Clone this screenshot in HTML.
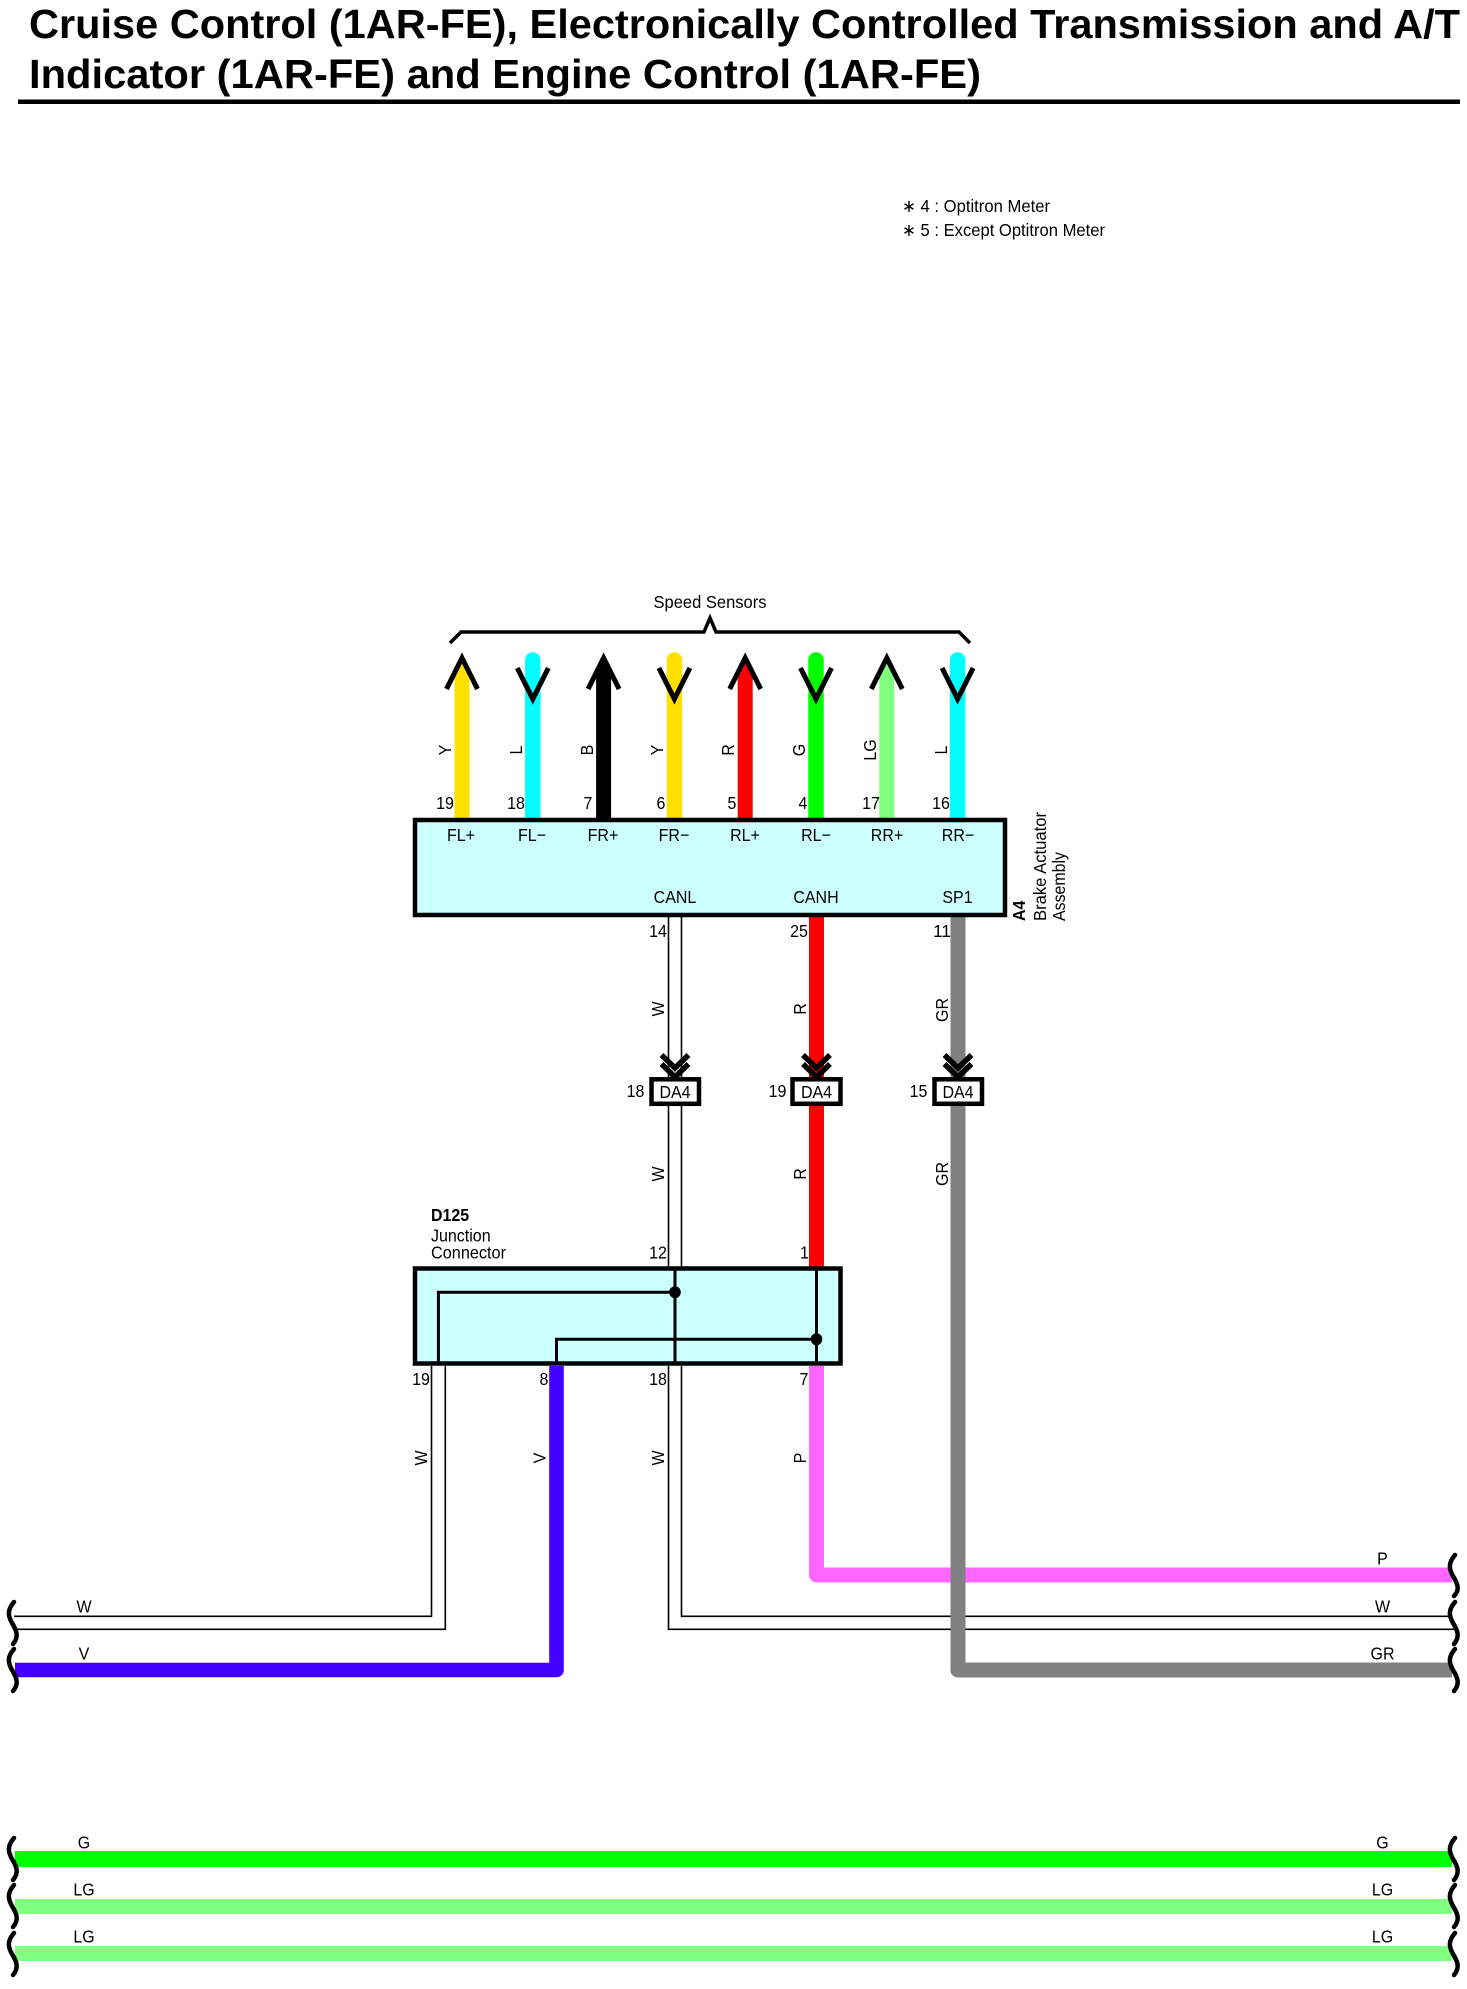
<!DOCTYPE html>
<html><head><meta charset="utf-8"><title>Wiring diagram</title>
<style>
html,body{margin:0;padding:0;background:#fff;width:1467px;height:1989px;overflow:hidden}
svg{display:block}
text{font-family:"Liberation Sans",Arial,sans-serif;font-size:17.5px;fill:#000;text-anchor:middle}
.s{text-anchor:start}
.b{font-weight:bold}
.ln{stroke:#000;stroke-width:1.6;fill:none}
.chev{stroke:#000;stroke-width:5.5;fill:none;stroke-linejoin:miter}
.sq{stroke:#000;stroke-width:4.5;fill:none;stroke-linecap:round}
.in{stroke:#000;stroke-width:3;fill:none}
</style></head><body>
<svg width="1467" height="1989" viewBox="0 0 1467 1989" xmlns="http://www.w3.org/2000/svg">
<rect width="1467" height="1989" fill="#fff"/>
<!-- title -->
<text class="s b" x="29" y="38" style="font-size:41px" textLength="1431" lengthAdjust="spacingAndGlyphs">Cruise Control (1AR-FE), Electronically Controlled Transmission and A/T</text>
<text class="s b" x="29" y="88" style="font-size:41px" textLength="952" lengthAdjust="spacingAndGlyphs">Indicator (1AR-FE) and Engine Control (1AR-FE)</text>
<rect x="18" y="99.5" width="1442" height="4.5" fill="#000"/>
<text class="s" x="902" y="212" textLength="148" lengthAdjust="spacingAndGlyphs">∗ 4 : Optitron Meter</text>
<text class="s" x="902" y="236" textLength="203" lengthAdjust="spacingAndGlyphs">∗ 5 : Except Optitron Meter</text>

<!-- speed sensors brace -->
<text x="710" y="608" textLength="113" lengthAdjust="spacingAndGlyphs">Speed Sensors</text>
<path d="M450 643 L461 632 H704 L710 618 L716 632 H959 L970 643" fill="none" stroke="#000" stroke-width="3.5"/>

<!-- sensor wires -->
<polygon points="454.5,820 454.5,677 462,657 469.5,677 469.5,820" fill="#ffe000"/>
<path d="M532.8 820 V660" stroke="#00ffff" stroke-width="15.5" stroke-linecap="round" fill="none"/>
<polygon points="596.1,820 596.1,677 603.6,657 611.1,677 611.1,820" fill="#000"/>
<path d="M674.4 820 V660" stroke="#ffe000" stroke-width="15.5" stroke-linecap="round" fill="none"/>
<polygon points="737.7,820 737.7,677 745.2,657 752.7,677 752.7,820" fill="#ff0000"/>
<path d="M816 820 V660" stroke="#00ff00" stroke-width="15.5" stroke-linecap="round" fill="none"/>
<polygon points="879.3,820 879.3,677 886.8,657 894.3,677 894.3,820" fill="#80ff80"/>
<path d="M957.6 820 V660" stroke="#00ffff" stroke-width="15.5" stroke-linecap="round" fill="none"/>
<g class="chev" style="stroke-width:5">
<path d="M446.5 689 L462 658 L477.5 689"/>
<path d="M517.3 668 L532.8 699 L548.3 668"/>
<path d="M588.1 689 L603.6 658 L619.1 689"/>
<path d="M658.9 668 L674.4 699 L689.9 668"/>
<path d="M729.7 689 L745.2 658 L760.7 689"/>
<path d="M800.5 668 L816 699 L831.5 668"/>
<path d="M871.3 689 L886.8 658 L902.3 689"/>
<path d="M942.1 668 L957.6 699 L973.1 668"/>
</g>
<!-- sensor wire labels -->
<g>
<text transform="translate(450,750) rotate(-90)" y="1" textLength="10.7" lengthAdjust="spacingAndGlyphs">Y</text>
<text transform="translate(521,750) rotate(-90)" y="1" textLength="8.9" lengthAdjust="spacingAndGlyphs">L</text>
<text transform="translate(592,750) rotate(-90)" y="1" textLength="10.7" lengthAdjust="spacingAndGlyphs">B</text>
<text transform="translate(662,750) rotate(-90)" y="1" textLength="10.7" lengthAdjust="spacingAndGlyphs">Y</text>
<text transform="translate(733,750) rotate(-90)" y="1" textLength="11.6" lengthAdjust="spacingAndGlyphs">R</text>
<text transform="translate(804,750) rotate(-90)" y="1" textLength="12.4" lengthAdjust="spacingAndGlyphs">G</text>
<text transform="translate(875,750) rotate(-90)" y="1" textLength="21.3" lengthAdjust="spacingAndGlyphs">LG</text>
<text transform="translate(946,750) rotate(-90)" y="1" textLength="8.9" lengthAdjust="spacingAndGlyphs">L</text>
</g>
<g>
<text x="445" y="809" textLength="17.8" lengthAdjust="spacingAndGlyphs">19</text><text x="516" y="809" textLength="17.8" lengthAdjust="spacingAndGlyphs">18</text><text x="588" y="809" textLength="8.9" lengthAdjust="spacingAndGlyphs">7</text><text x="661" y="809" textLength="8.9" lengthAdjust="spacingAndGlyphs">6</text>
<text x="732" y="809" textLength="8.9" lengthAdjust="spacingAndGlyphs">5</text><text x="803" y="809" textLength="8.9" lengthAdjust="spacingAndGlyphs">4</text><text x="871" y="809" textLength="17.8" lengthAdjust="spacingAndGlyphs">17</text><text x="941" y="809" textLength="17.8" lengthAdjust="spacingAndGlyphs">16</text>
</g>

<!-- lower wires -->
<path d="M816.5 1366 V1575 H1452" fill="none" stroke="#ff66ff" stroke-width="15" stroke-linejoin="round"/>
<path d="M556.5 1366 V1670 H15" fill="none" stroke="#4400ff" stroke-width="14.6" stroke-linejoin="round"/>
<g class="ln">
<path d="M431.5 1366 V1616.3 H14"/>
<path d="M445.3 1366 V1629.3 H16"/>
<path d="M668.5 917 V1077 M681.5 917 V1077"/>
<path d="M668.5 1106 V1267 M681.5 1106 V1267"/>
<path d="M668.5 1366 V1629.3 H1456"/>
<path d="M681.5 1366 V1616.3 H1452"/>
</g>
<path d="M958 917 V1670 H1452" fill="none" stroke="#808080" stroke-width="15" stroke-linejoin="round"/>
<path d="M816.5 917 V1267" fill="none" stroke="#ff0000" stroke-width="15"/>

<!-- A4 box -->
<rect x="415" y="820" width="590" height="95" fill="#ccffff" stroke="#000" stroke-width="4.5"/>
<text x="461" y="841" textLength="28" lengthAdjust="spacingAndGlyphs">FL+</text><text x="532" y="841" textLength="28" lengthAdjust="spacingAndGlyphs">FL−</text><text x="603" y="841" textLength="30.7" lengthAdjust="spacingAndGlyphs">FR+</text><text x="674" y="841" textLength="30.7" lengthAdjust="spacingAndGlyphs">FR−</text>
<text x="745" y="841" textLength="29.8" lengthAdjust="spacingAndGlyphs">RL+</text><text x="816" y="841" textLength="29.8" lengthAdjust="spacingAndGlyphs">RL−</text><text x="887" y="841" textLength="32.4" lengthAdjust="spacingAndGlyphs">RR+</text><text x="958" y="841" textLength="32.4" lengthAdjust="spacingAndGlyphs">RR−</text>
<text x="675" y="903" textLength="42.7" lengthAdjust="spacingAndGlyphs">CANL</text><text x="816" y="903" textLength="45.3" lengthAdjust="spacingAndGlyphs">CANH</text><text x="957.5" y="903" textLength="30.2" lengthAdjust="spacingAndGlyphs">SP1</text>
<text class="s b" transform="translate(1025,921) rotate(-90)" textLength="20.4" lengthAdjust="spacingAndGlyphs">A4</text>
<text class="s" transform="translate(1046,921) rotate(-90)" textLength="109" lengthAdjust="spacingAndGlyphs">Brake Actuator</text>
<text class="s" transform="translate(1065,921) rotate(-90)" textLength="69" lengthAdjust="spacingAndGlyphs">Assembly</text>

<text x="658" y="937" textLength="17.8" lengthAdjust="spacingAndGlyphs">14</text><text x="799" y="937" textLength="17.8" lengthAdjust="spacingAndGlyphs">25</text><text x="942" y="937" textLength="17.8" lengthAdjust="spacingAndGlyphs">11</text>
<text transform="translate(664,1009) rotate(-90)" textLength="15.1" lengthAdjust="spacingAndGlyphs">W</text>
<text transform="translate(806,1009) rotate(-90)" textLength="11.6" lengthAdjust="spacingAndGlyphs">R</text>
<text transform="translate(948,1010) rotate(-90)" textLength="24" lengthAdjust="spacingAndGlyphs">GR</text>
<text transform="translate(664,1174) rotate(-90)" textLength="15.1" lengthAdjust="spacingAndGlyphs">W</text>
<text transform="translate(806,1174) rotate(-90)" textLength="11.6" lengthAdjust="spacingAndGlyphs">R</text>
<text transform="translate(948,1174) rotate(-90)" textLength="24" lengthAdjust="spacingAndGlyphs">GR</text>

<!-- DA4 connectors -->
<g class="chev">
<path d="M661.5 1055 L675 1068 L688.5 1055"/><path d="M661.5 1064 L675 1077 L688.5 1064"/>
<path d="M803 1055 L816.5 1068 L830 1055"/><path d="M803 1064 L816.5 1077 L830 1064"/>
<path d="M944.5 1055 L958 1068 L971.5 1055"/><path d="M944.5 1064 L958 1077 L971.5 1064"/>
</g>
<g fill="#fff" stroke="#000" stroke-width="4.5">
<rect x="651.5" y="1079.3" width="47.5" height="24.5"/>
<rect x="792.5" y="1079.3" width="48" height="24.5"/>
<rect x="934.5" y="1079.3" width="47.5" height="24.5"/>
</g>
<text x="675" y="1098" textLength="31.1" lengthAdjust="spacingAndGlyphs">DA4</text><text x="816.5" y="1098" textLength="31.1" lengthAdjust="spacingAndGlyphs">DA4</text><text x="958" y="1098" textLength="31.1" lengthAdjust="spacingAndGlyphs">DA4</text>
<text x="635.5" y="1097" textLength="17.8" lengthAdjust="spacingAndGlyphs">18</text><text x="777.5" y="1097" textLength="17.8" lengthAdjust="spacingAndGlyphs">19</text><text x="918.5" y="1097" textLength="17.8" lengthAdjust="spacingAndGlyphs">15</text>

<!-- D125 -->
<text class="s b" x="431" y="1221" textLength="38.2" lengthAdjust="spacingAndGlyphs">D125</text>
<text class="s" x="431" y="1241.5" textLength="59.6" lengthAdjust="spacingAndGlyphs">Junction</text>
<text class="s" x="431" y="1258.5" textLength="75" lengthAdjust="spacingAndGlyphs">Connector</text>
<text x="658" y="1258.5" textLength="17.8" lengthAdjust="spacingAndGlyphs">12</text><text x="804.5" y="1258.5" textLength="8.9" lengthAdjust="spacingAndGlyphs">1</text>
<rect x="415" y="1268.5" width="425.5" height="95" fill="#ccffff" stroke="#000" stroke-width="4.5"/>
<g class="in">
<path d="M675 1268 V1364"/>
<path d="M816.5 1268 V1364"/>
<path d="M438.4 1364 V1292.3 H675"/>
<path d="M556.5 1364 V1339.3 H816.5"/>
</g>
<ellipse cx="675" cy="1292.3" rx="5.8" ry="6" fill="#000"/>
<ellipse cx="816.5" cy="1339.3" rx="5.8" ry="6" fill="#000"/>
<text x="421" y="1385" textLength="17.8" lengthAdjust="spacingAndGlyphs">19</text><text x="544" y="1385" textLength="8.9" lengthAdjust="spacingAndGlyphs">8</text><text x="658" y="1385" textLength="17.8" lengthAdjust="spacingAndGlyphs">18</text><text x="804" y="1385" textLength="8.9" lengthAdjust="spacingAndGlyphs">7</text>
<text transform="translate(427,1458) rotate(-90)" textLength="15.1" lengthAdjust="spacingAndGlyphs">W</text>
<text transform="translate(545.5,1458) rotate(-90)" textLength="10.7" lengthAdjust="spacingAndGlyphs">V</text>
<text transform="translate(664,1458) rotate(-90)" textLength="15.1" lengthAdjust="spacingAndGlyphs">W</text>
<text transform="translate(806,1458) rotate(-90)" textLength="10.7" lengthAdjust="spacingAndGlyphs">P</text>

<!-- bottom bands -->
<rect x="15" y="1851" width="1437" height="16" fill="#00ff00"/>
<rect x="15" y="1899" width="1437" height="15" fill="#80ff80"/>
<rect x="15" y="1946" width="1437" height="15" fill="#80ff80"/>

<!-- wire end labels -->
<text x="84" y="1612.5" textLength="15.1" lengthAdjust="spacingAndGlyphs">W</text><text x="84" y="1659.5" textLength="10.7" lengthAdjust="spacingAndGlyphs">V</text>
<text x="1382.5" y="1564.5" textLength="10.7" lengthAdjust="spacingAndGlyphs">P</text><text x="1382.5" y="1612.5" textLength="15.1" lengthAdjust="spacingAndGlyphs">W</text><text x="1382.5" y="1659.5" textLength="24" lengthAdjust="spacingAndGlyphs">GR</text>
<text x="84" y="1848.5" textLength="12.4" lengthAdjust="spacingAndGlyphs">G</text><text x="84" y="1895.5" textLength="21.3" lengthAdjust="spacingAndGlyphs">LG</text><text x="84" y="1942.5" textLength="21.3" lengthAdjust="spacingAndGlyphs">LG</text>
<text x="1382.5" y="1848.5" textLength="12.4" lengthAdjust="spacingAndGlyphs">G</text><text x="1382.5" y="1895.5" textLength="21.3" lengthAdjust="spacingAndGlyphs">LG</text><text x="1382.5" y="1942.5" textLength="21.3" lengthAdjust="spacingAndGlyphs">LG</text>

<!-- squiggles -->
<g class="sq">
<path d="M14 1602 C7 1610 8 1616 12 1623 C17 1631 19 1637 13 1644"/>
<path d="M14 1649 C7 1657 8 1663 12 1670 C17 1678 19 1684 13 1691"/>
<path d="M14 1838 C7 1846 8 1852 12 1859 C17 1867 19 1873 13 1880"/>
<path d="M14 1885 C7 1893 8 1899 12 1906 C17 1914 19 1920 13 1927"/>
<path d="M14 1933 C7 1941 8 1947 12 1954 C17 1962 19 1968 13 1975"/>
<path d="M1455 1555 C1448 1563 1449 1569 1453 1576 C1458 1584 1460 1590 1454 1596"/>
<path d="M1455 1602 C1448 1610 1449 1616 1453 1623 C1458 1631 1460 1637 1454 1644"/>
<path d="M1455 1649 C1448 1657 1449 1663 1453 1670 C1458 1678 1460 1684 1454 1691"/>
<path d="M1455 1838 C1448 1846 1449 1852 1453 1859 C1458 1867 1460 1873 1454 1880"/>
<path d="M1455 1885 C1448 1893 1449 1899 1453 1906 C1458 1914 1460 1920 1454 1927"/>
<path d="M1455 1933 C1448 1941 1449 1947 1453 1954 C1458 1962 1460 1968 1454 1975"/>
</g>
</svg>
</body></html>
